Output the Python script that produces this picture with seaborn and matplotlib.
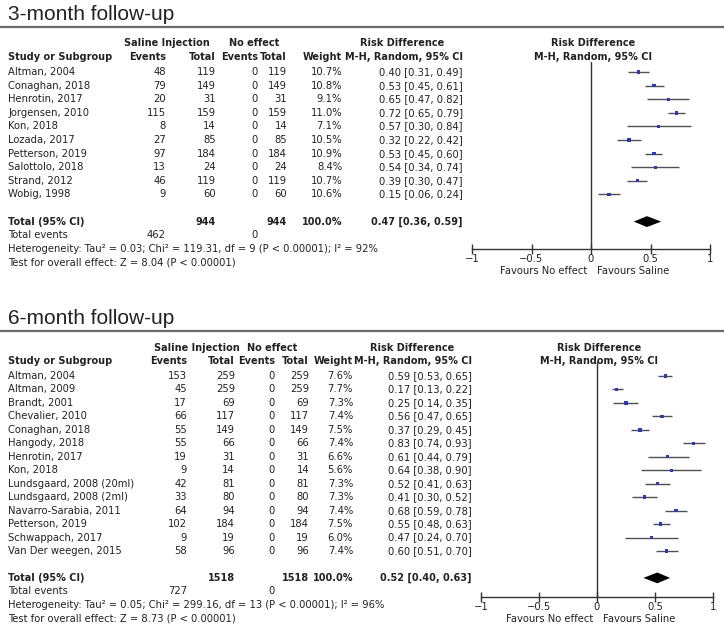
import numpy as np
import pandas as pd
import seaborn as sns
import matplotlib.pyplot as plt
from matplotlib.lines import Line2D

# ---- data: 3-month follow-up ----
studies_3m = ["Altman, 2004", "Conaghan, 2018", "Henrotin, 2017", "Jorgensen, 2010", "Kon, 2018",
              "Lozada, 2017", "Petterson, 2019", "Salottolo, 2018", "Strand, 2012", "Wobig, 1998"]
sal_events_3m = [48, 79, 20, 115, 8, 27, 97, 13, 46, 9]
sal_total_3m = [119, 149, 31, 159, 14, 85, 184, 24, 119, 60]
ne_events_3m = [0, 0, 0, 0, 0, 0, 0, 0, 0, 0]
ne_total_3m = [119, 149, 31, 159, 14, 85, 184, 24, 119, 60]
weight_3m = [10.7, 10.8, 9.1, 11.0, 7.1, 10.5, 10.9, 8.4, 10.7, 10.6]
rd_3m = [0.40, 0.53, 0.65, 0.72, 0.57, 0.32, 0.53, 0.54, 0.39, 0.15]
lo_3m = [0.31, 0.45, 0.47, 0.65, 0.30, 0.22, 0.45, 0.34, 0.30, 0.06]
hi_3m = [0.49, 0.61, 0.82, 0.79, 0.84, 0.42, 0.60, 0.74, 0.47, 0.24]
pooled_3m = [0.47, 0.36, 0.59]
totals_3m = [944, 944, 462, 0]
het_3m = "Heterogeneity: Tau² = 0.03; Chi² = 119.31, df = 9 (P < 0.00001); I² = 92%"
test_3m = "Test for overall effect: Z = 8.04 (P < 0.00001)"

# ---- data: 6-month follow-up ----
studies_6m = ["Altman, 2004", "Altman, 2009", "Brandt, 2001", "Chevalier, 2010", "Conaghan, 2018",
              "Hangody, 2018", "Henrotin, 2017", "Kon, 2018", "Lundsgaard, 2008 (20ml)",
              "Lundsgaard, 2008 (2ml)", "Navarro-Sarabia, 2011", "Petterson, 2019",
              "Schwappach, 2017", "Van Der weegen, 2015"]
sal_events_6m = [153, 45, 17, 66, 55, 55, 19, 9, 42, 33, 64, 102, 9, 58]
sal_total_6m = [259, 259, 69, 117, 149, 66, 31, 14, 81, 80, 94, 184, 19, 96]
ne_events_6m = [0] * 14
ne_total_6m = [259, 259, 69, 117, 149, 66, 31, 14, 81, 80, 94, 184, 19, 96]
weight_6m = [7.6, 7.7, 7.3, 7.4, 7.5, 7.4, 6.6, 5.6, 7.3, 7.3, 7.4, 7.5, 6.0, 7.4]
rd_6m = [0.59, 0.17, 0.25, 0.56, 0.37, 0.83, 0.61, 0.64, 0.52, 0.41, 0.68, 0.55, 0.47, 0.60]
lo_6m = [0.53, 0.13, 0.14, 0.47, 0.29, 0.74, 0.44, 0.38, 0.41, 0.30, 0.59, 0.48, 0.24, 0.51]
hi_6m = [0.65, 0.22, 0.35, 0.65, 0.45, 0.93, 0.79, 0.90, 0.63, 0.52, 0.78, 0.63, 0.70, 0.70]
pooled_6m = [0.52, 0.40, 0.63]
totals_6m = [1518, 1518, 727, 0]
het_6m = "Heterogeneity: Tau² = 0.05; Chi² = 299.16, df = 13 (P < 0.00001); I² = 96%"
test_6m = "Test for overall effect: Z = 8.73 (P < 0.00001)"

xticks = [-1, -0.5, 0, 0.5, 1]
xtick_labels = ["\u22121", "\u22120.5", "0", "0.5", "1"]

sns.set_theme(style="white")
plt.rcParams['font.family'] = ['DejaVu Sans']

W, H = 724, 634
FS = 7.2
TXT = "#222222"
fig = plt.figure(figsize=(W / 100, H / 100), dpi=100)


def txt(x, y, s, ha='left', bold=False, size=None, family=None):
    kw = {}
    if family:
        kw['family'] = family
    if size is None:
        size = 7.0 if bold else FS
    fig.text(x / W, 1 - y / H, s, ha=ha, va='center', fontsize=size,
             fontweight='bold' if bold else 'normal', color=TXT, **kw)


def hrule(y):
    fig.add_artist(Line2D([0, 1], [1 - y / H] * 2, transform=fig.transFigure,
                          color="#6a6a6a", lw=1.6))


def panel(title, studies, se, st, ne, nt, wt, rd, lo, hi, pooled, totals, het, test, L):
    txt(8, L['title_y'], title, size=15, family='Liberation Sans')
    hrule(L['rule_y'])
    c_ev, c_tot, c_nev, c_ntot, c_w, c_rd = L['cols']
    h1, h2 = L['head_y']
    txt(L['sal_c'], h1, "Saline Injection", ha='center', bold=True)
    txt(L['no_c'], h1, "No effect", ha='center', bold=True)
    txt(L['rd_c'], h1, "Risk Difference", ha='center', bold=True)
    txt(8, h2, "Study or Subgroup", bold=True)
    txt(c_ev, h2, "Events", ha='right', bold=True)
    txt(c_tot, h2, "Total", ha='right', bold=True)
    txt(c_nev, h2, "Events", ha='right', bold=True)
    txt(c_ntot, h2, "Total", ha='right', bold=True)
    txt(c_w, h2, "Weight", ha='right', bold=True)
    txt(c_rd, h2, "M-H, Random, 95% CI", ha='right', bold=True)

    n = len(studies)
    y0, step = L['row0'], L['step']
    for i in range(n):
        y = y0 + step * i
        txt(8, y, studies[i])
        txt(c_ev, y, str(se[i]), ha='right')
        txt(c_tot, y, str(st[i]), ha='right')
        txt(c_nev, y, str(ne[i]), ha='right')
        txt(c_ntot, y, str(nt[i]), ha='right')
        txt(c_w, y, f"{wt[i]:.1f}%", ha='right')
        txt(c_rd, y, f"{rd[i]:.2f} [{lo[i]:.2f}, {hi[i]:.2f}]", ha='right')

    yt = y0 + step * (n + 1)
    txt(8, yt, "Total (95% CI)", bold=True)
    txt(c_tot, yt, str(totals[0]), ha='right', bold=True)
    txt(c_ntot, yt, str(totals[1]), ha='right', bold=True)
    txt(c_w, yt, "100.0%", ha='right', bold=True)
    txt(c_rd, yt, f"{pooled[0]:.2f} [{pooled[1]:.2f}, {pooled[2]:.2f}]", ha='right', bold=True)
    txt(8, yt + step, "Total events")
    txt(c_ev, yt + step, str(totals[2]), ha='right')
    txt(c_nev, yt + step, str(totals[3]), ha='right')
    txt(8, yt + 2 * step, het)
    txt(8, yt + 3 * step, test)

    # forest plot
    fl, fr, ftop, fax = L['fl'], L['fr'], L['ftop'], L['faxis']
    ax = fig.add_axes([fl / W, 1 - fax / H, (fr - fl) / W, (fax - ftop) / H])
    ax.patch.set_alpha(0)
    df = pd.DataFrame({'row': np.arange(n), 'rd': rd, 'lo': lo, 'hi': hi, 'w': wt})
    ax.hlines(df['row'], df['lo'], df['hi'], color="#505050", lw=1.0)
    sns.scatterplot(data=df, x='rd', y='row', marker='s', size='w', sizes=(4, 6),
                    color="#2a3cb0", edgecolor='none', legend=False, ax=ax, zorder=3)
    r = n + 1
    est, plo, phi = pooled
    ax.fill([plo, est, phi, est], [r, r - 0.4, r, r + 0.4], color='black', lw=0)
    ax.axvline(0, color="#333333", lw=1)
    ax.set_xlim(-1, 1)
    ax.set_ylim((fax - y0) / step, (ftop - y0) / step)
    for s in ['top', 'left', 'right']:
        ax.spines[s].set_visible(False)
    ax.spines['bottom'].set_color("#333333")
    ax.spines['bottom'].set_linewidth(1)
    ax.set_xticks(xticks)
    ax.set_xticklabels(xtick_labels)
    ax.set_yticks([])
    ax.set_xlabel("")
    ax.set_ylabel("")
    ax.tick_params(axis='x', direction='inout', length=7, width=1, color="#333333",
                   labelsize=FS, labelcolor=TXT, pad=0, bottom=True)
    cx = (fl + fr) / 2
    txt(cx + 2, h1, "Risk Difference", ha='center', bold=True)
    txt(cx + 2, h2, "M-H, Random, 95% CI", ha='center', bold=True)
    txt(cx - 4, L['fav_y'], "Favours No effect", ha='right')
    txt(cx + 6, L['fav_y'], "Favours Saline", ha='left')


L3 = dict(title_y=15, rule_y=27, head_y=(43, 57), row0=72, step=13.6,
          cols=(166, 216, 258, 287, 342, 463), sal_c=167, no_c=254, rd_c=402,
          fl=472, fr=710, ftop=62, faxis=249, fav_y=271)
L6 = dict(title_y=318, rule_y=331, head_y=(348, 361), row0=376, step=13.46,
          cols=(187, 235, 275, 309, 353, 472), sal_c=197, no_c=272, rd_c=412,
          fl=481, fr=713, ftop=362, faxis=597, fav_y=619)

panel("3-month follow-up", studies_3m, sal_events_3m, sal_total_3m, ne_events_3m, ne_total_3m,
      weight_3m, rd_3m, lo_3m, hi_3m, pooled_3m, totals_3m, het_3m, test_3m, L3)
panel("6-month follow-up", studies_6m, sal_events_6m, sal_total_6m, ne_events_6m, ne_total_6m,
      weight_6m, rd_6m, lo_6m, hi_6m, pooled_6m, totals_6m, het_6m, test_6m, L6)

fig.savefig("out.png", dpi=100, facecolor='white')
